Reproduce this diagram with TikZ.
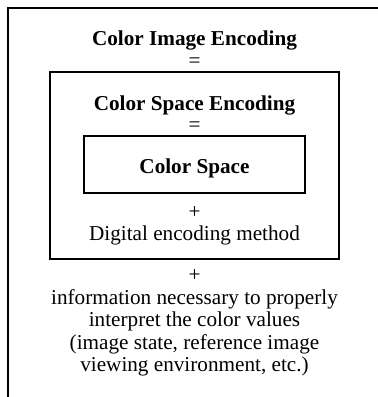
\documentclass[tikz,border=0pt]{standalone}
\usepackage{fontspec}
\setmainfont{Liberation Serif}
\begin{document}
\begin{tikzpicture}[x=1pt,y=-1pt,
  txt/.style={anchor=base,inner sep=0pt,font=\fontsize{21.2}{22.5}\selectfont},
  btxt/.style={txt,font=\fontsize{21.2}{22.5}\selectfont\bfseries},
  frame/.style={line width=1.6pt},
  box/.style={line width=1.4pt}]
\useasboundingbox (0,0) rectangle (378,397);
% outer frame (open on the right and bottom)
\coordinate (otr) at (378,8);
\coordinate (otl) at (8,8);
\coordinate (obl) at (8,397);
\draw[frame] (otr) -- (otl) -- (obl);
% boxes
\draw[box] (50,72) rectangle (339,259);
\draw[box] (84,136) rectangle (305,193);
% texts
\node[btxt] (cie) at (194.5,45) {Color Image Encoding};
\node[txt] (eq1) at (194.5,67) {=};
\node[btxt] (cse) at (194.5,110) {Color Space Encoding};
\node[txt] (eq2) at (194.5,131) {=};
\node[btxt] (cs) at (194.5,173) {Color Space};
\node[txt] (pl1) at (194.5,218) {+};
\node[txt] (dem) at (194.5,240) {Digital encoding method};
\node[txt] (pl2) at (194.5,281) {+};
\node[txt,align=center] (info) at (194.5,371.5) {information necessary to properly\\interpret the color values\\(image state, reference image\\viewing environment, etc.)};
\end{tikzpicture}
\end{document}
